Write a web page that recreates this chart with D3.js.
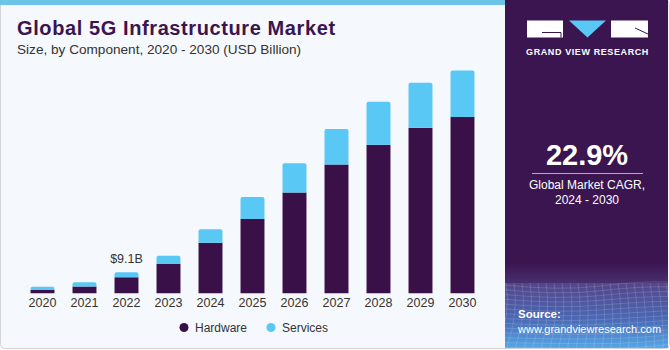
<!DOCTYPE html>
<html>
<head>
<meta charset="utf-8">
<script src="https://cdn.jsdelivr.net/npm/d3@7"></script>
<style>
  body { margin: 0; background: #fff; }
  text { font-family: "Liberation Sans", Arial, sans-serif; }
</style>
</head>
<body>
<div id="chart"></div>
<script>
var years = ["2020", "2021", "2022", "2023", "2024", "2025", "2026", "2027", "2028", "2029", "2030"];
var hardware = [1.4, 2.9, 6.9, 12.7, 21.9, 32.2, 43.6, 55.8, 64.3, 71.7, 76.3];
var services = [1.4, 1.9, 2.2, 3.6, 5.8, 9.5, 12.7, 15.3, 18.6, 19.5, 20.1];
var seriesNames = ["Hardware", "Services"];
var colors = ["#3a1048", "#5ac8f5"];
var callout = { year: "2022", label: "$9.1B" };

var W = 670, H = 350;
var purple = "#3b1550";

var svg = d3.select("#chart")
  .append("svg")
  .attr("width", W)
  .attr("height", H);

var defs = svg.append("defs");
var fade = defs.append("linearGradient")
  .attr("id", "fadeGrad")
  .attr("x1", 0).attr("y1", 0).attr("x2", 0).attr("y2", 1);
fade.append("stop").attr("offset", "0%").attr("stop-color", purple);
fade.append("stop").attr("offset", "100%").attr("stop-color", "#47306e");
var grad = defs.append("linearGradient")
  .attr("id", "srcGrad")
  .attr("x1", 0).attr("y1", 0).attr("x2", 0).attr("y2", 1);
grad.append("stop").attr("offset", "0%").attr("stop-color", "#54458a");
grad.append("stop").attr("offset", "55%").attr("stop-color", "#4a68b4");
grad.append("stop").attr("offset", "100%").attr("stop-color", "#55a6e6");

// card
svg.append("rect")
  .attr("x", 0.5).attr("y", 0.5)
  .attr("width", W - 1).attr("height", H - 2)
  .attr("rx", 4)
  .attr("fill", "#f5f8fc")
  .attr("stroke", "#cfd3d8");

// top stripe
svg.append("rect")
  .attr("x", 0).attr("y", 0)
  .attr("width", 506).attr("height", 5)
  .attr("fill", "#6cc5e8");

// right panel
svg.append("rect")
  .attr("x", 505).attr("y", 0)
  .attr("width", 163).attr("height", 263)
  .attr("fill", purple);
svg.append("rect")
  .attr("x", 505).attr("y", 263)
  .attr("width", 163).attr("height", 20)
  .attr("fill", "url(#fadeGrad)");
svg.append("rect")
  .attr("x", 505).attr("y", 283)
  .attr("width", 163).attr("height", 65)
  .attr("fill", "url(#srcGrad)");

// faint mesh in source area
var mesh = svg.append("g")
  .attr("stroke", "#ffffff")
  .attr("stroke-opacity", 0.2)
  .attr("stroke-width", 0.7)
  .attr("fill", "none");
d3.range(0, 14).forEach(function(i) {
  var y0 = 285 + i * 4.8;
  mesh.append("path")
    .attr("d", "M505," + y0 + " Q560," + (y0 + 6 - i * 0.4) + " 600," + (y0 + 1) + " T668," + (y0 - 3));
});
d3.range(0, 22).forEach(function(i) {
  var x0 = 506 + i * 8;
  mesh.append("path")
    .attr("d", "M" + x0 + ",283 Q" + (x0 + 5) + ",312 " + (x0 - 8 + i * 0.7) + ",348");
});

// logo
var logo = svg.append("g");
logo.append("rect").attr("x", 527).attr("y", 20.5).attr("width", 36).attr("height", 17).attr("fill", "#fff");
logo.append("path").attr("d", "M542,32.5 H561 V37.5").attr("stroke", purple).attr("stroke-width", 1).attr("fill", "none");
logo.append("path").attr("d", "M569,20.5 L606,20.5 L587.5,37.5 Z").attr("fill", "#5ac8f5");
logo.append("rect").attr("x", 611).attr("y", 20.5).attr("width", 37).attr("height", 17).attr("fill", "#fff");
logo.append("path").attr("d", "M635,28 L648,34").attr("stroke", purple).attr("stroke-width", 1);
logo.append("text")
  .attr("x", 587.5).attr("y", 55)
  .attr("text-anchor", "middle")
  .attr("fill", "#fff")
  .attr("font-size", 9)
  .attr("font-weight", "bold")
  .attr("letter-spacing", 0.6)
  .text("GRAND VIEW RESEARCH");

// CAGR
svg.append("text")
  .attr("x", 587).attr("y", 165)
  .attr("text-anchor", "middle")
  .attr("fill", "#fff")
  .attr("font-size", 29)
  .attr("font-weight", "bold")
  .text("22.9%");
svg.append("line")
  .attr("x1", 532).attr("x2", 643)
  .attr("y1", 173.5).attr("y2", 173.5)
  .attr("stroke", "#b9a6c9").attr("stroke-width", 1);
svg.append("text")
  .attr("x", 587).attr("y", 189)
  .attr("text-anchor", "middle")
  .attr("fill", "#fff")
  .attr("font-size", 12)
  .text("Global Market CAGR,");
svg.append("text")
  .attr("x", 587).attr("y", 204)
  .attr("text-anchor", "middle")
  .attr("fill", "#fff")
  .attr("font-size", 12)
  .text("2024 - 2030");

// source
svg.append("text")
  .attr("x", 518).attr("y", 318)
  .attr("fill", "#fff")
  .attr("font-size", 11.5)
  .attr("font-weight", "bold")
  .text("Source:");
svg.append("text")
  .attr("x", 518).attr("y", 333)
  .attr("fill", "#fff")
  .attr("font-size", 11)
  .text("www.grandviewresearch.com");

// titles
svg.append("text")
  .attr("x", 17).attr("y", 35)
  .attr("fill", purple)
  .attr("font-size", 20)
  .attr("font-weight", 900)
  .attr("letter-spacing", 0.6)
  .text("Global 5G Infrastructure Market");
svg.append("text")
  .attr("x", 17).attr("y", 54)
  .attr("fill", "#333")
  .attr("font-size", 13.6)
  .text("Size, by Component, 2020 - 2030 (USD Billion)");

// chart
var x = d3.scaleBand()
  .domain(years)
  .range([21.5, 483.5])
  .paddingInner(0.43)
  .paddingOuter(0.215);

var y = d3.scaleLinear()
  .domain([0, 100])
  .range([293.3, 62.3]);

var table = years.map(function(yr, i) {
  return { year: yr, Hardware: hardware[i], Services: services[i] };
});
var stacked = d3.stack().keys(seriesNames)(table);

var layers = svg.append("g")
  .selectAll("g")
  .data(stacked)
  .enter().append("g")
  .attr("fill", function(d, i) { return colors[i]; });

layers.selectAll("path")
  .data(function(d) { return d; })
  .enter().append("path")
  .attr("d", function(d, i, nodes) {
    var x0 = x(d.data.year), w = x.bandwidth();
    var yt = y(d[1]), yb = y(d[0]);
    var top = d3.select(nodes[i].parentNode).datum().key === "Services";
    var r = top ? Math.min(2, yb - yt) : 0;
    return "M" + x0 + "," + yb +
      " V" + (yt + r) +
      " Q" + x0 + "," + yt + " " + (x0 + r) + "," + yt +
      " H" + (x0 + w - r) +
      " Q" + (x0 + w) + "," + yt + " " + (x0 + w) + "," + (yt + r) +
      " V" + yb + " Z";
  });

// callout
var ci = years.indexOf(callout.year);
svg.append("text")
  .attr("x", x(callout.year) + x.bandwidth() / 2)
  .attr("y", y(hardware[ci] + services[ci]) - 9)
  .attr("text-anchor", "middle")
  .attr("fill", "#333")
  .attr("font-size", 12.5)
  .text(callout.label);

// x axis
var xAxis = svg.append("g")
  .attr("transform", "translate(0," + 293.3 + ")")
  .call(d3.axisBottom(x).tickSize(0).tickPadding(5));
xAxis.select(".domain").remove();
xAxis.selectAll("text")
  .attr("font-size", 12.5)
  .attr("fill", "#333")
  .attr("font-family", "Liberation Sans, Arial, sans-serif");

// legend
var legend = svg.append("g");
var lx = [184, 271];
seriesNames.forEach(function(name, i) {
  legend.append("circle")
    .attr("cx", lx[i]).attr("cy", 327.5).attr("r", 4.5)
    .attr("fill", colors[i]);
  legend.append("text")
    .attr("x", lx[i] + 11).attr("y", 332)
    .attr("fill", "#333")
    .attr("font-size", 12)
    .text(name);
});
</script>
</body>
</html>
